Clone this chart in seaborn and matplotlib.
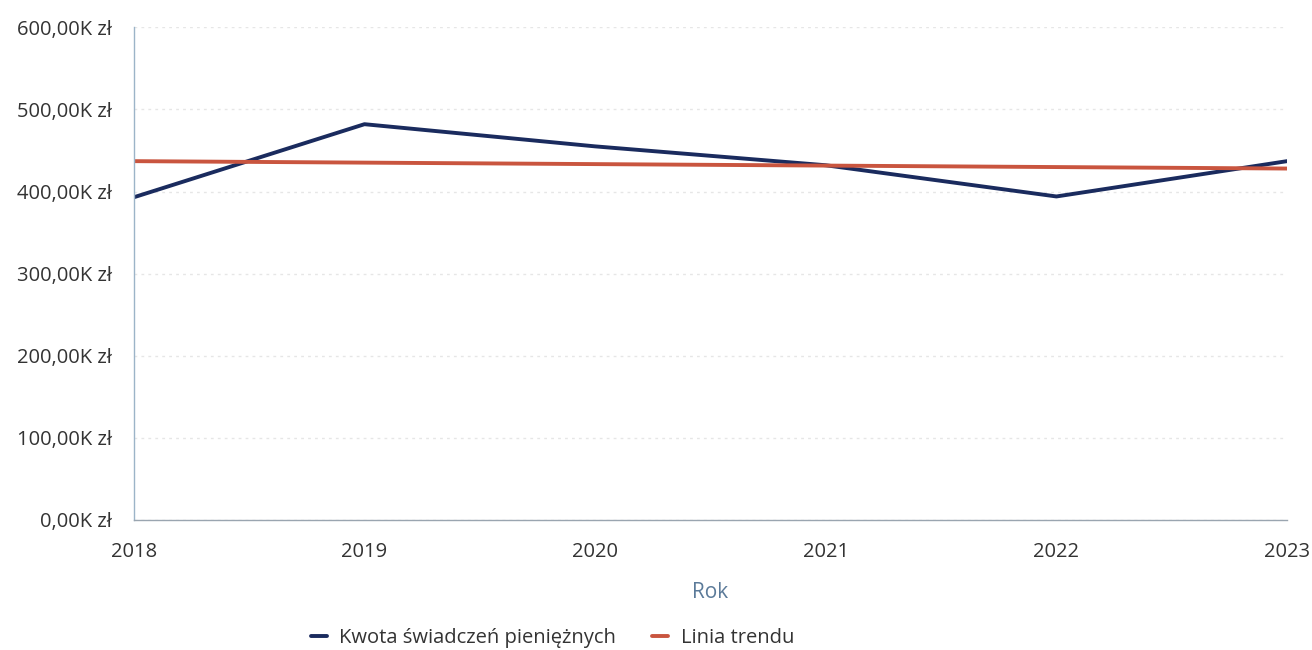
import numpy as np
import pandas as pd
import matplotlib
matplotlib.use("Agg")
import matplotlib.pyplot as plt
import seaborn as sns
from matplotlib.ticker import FuncFormatter

# data (thousands of zł)
years = [2018, 2019, 2020, 2021, 2022, 2023]
amounts = [393, 482, 455, 432, 394, 437]
trend_years = [2018, 2023]
trend_values = [437, 428]

navy = "#1a2b5e"
red = "#c9553f"

sns.set_style("white")
plt.rcParams["font.family"] = ["Open Sans", "DejaVu Sans"]

df = pd.DataFrame({"Rok": years, "Kwota": amounts})
trend = pd.DataFrame({"Rok": trend_years, "Kwota": trend_values})

fig, ax = plt.subplots(figsize=(13.12, 6.5), dpi=100)
fig.subplots_adjust(left=0.102, right=0.981, top=0.958, bottom=0.2)

sns.lineplot(data=df, x="Rok", y="Kwota", color=navy, linewidth=2.8,
             label="Kwota świadczeń pieniężnych", ax=ax)
sns.lineplot(data=trend, x="Rok", y="Kwota", color=red, linewidth=2.8,
             label="Linia trendu", ax=ax)

ax.set_xlim(2018, 2023)
ax.set_ylim(0, 600)
ax.set_xticks(years)
ax.set_yticks(range(0, 601, 100))
ax.yaxis.set_major_formatter(FuncFormatter(lambda v, p: f"{int(v)},00K zł"))
ax.tick_params(axis="both", labelsize=14.5, colors="#333333", length=0)
ax.tick_params(axis="y", pad=16)
ax.tick_params(axis="x", pad=16)

ax.grid(axis="y", color="#e6e6e6", linestyle=(0, (2, 3)), linewidth=1)
for s in ["top", "right"]:
    ax.spines[s].set_visible(False)
ax.spines["left"].set_color("#9cb4c8")
ax.spines["bottom"].set_color("#9aa5b0")
ax.spines["left"].set_linewidth(1)
ax.spines["bottom"].set_linewidth(1)

ax.set_xlabel("Rok", fontsize=15, color="#5b7a99", labelpad=14)
ax.set_ylabel("")

ax.legend(loc="center", bbox_to_anchor=(0.363, -0.24), ncol=2, frameon=False,
          fontsize=14.5, handlelength=0.8, handletextpad=0.6, columnspacing=1.8,
          labelcolor="#333333")

fig.savefig("out.png", dpi=100)
